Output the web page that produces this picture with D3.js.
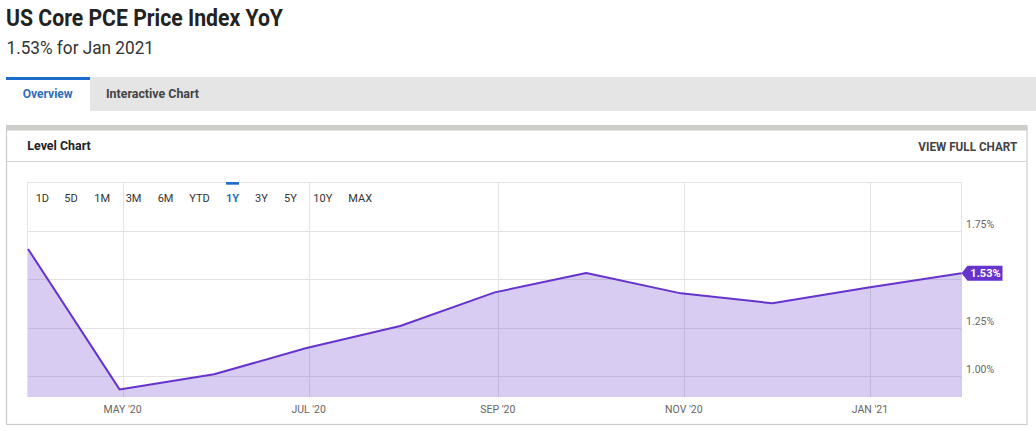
<!DOCTYPE html>
<html>
<head>
<meta charset="utf-8">
<script src="https://cdn.jsdelivr.net/npm/d3@7"></script>
<style>
  html, body { margin: 0; padding: 0; background: #fff; }
  svg { display: block; font-family: Roboto, "Noto Sans", sans-serif; }
</style>
</head>
<body>
<svg id="chart" width="1036" height="431"></svg>
<script>
// ---------- data ----------
const dates = ["2020-03-31","2020-04-30","2020-05-31","2020-06-30","2020-07-31","2020-08-31",
               "2020-09-30","2020-10-31","2020-11-30","2020-12-31","2021-01-31"];
const values = [1.655, 0.931, 1.009, 1.143, 1.258, 1.431, 1.531, 1.426, 1.375, 1.455, 1.53];
const yTicks = [1.00, 1.25, 1.50, 1.75];
const yTickLabels = ["1.00%", "1.25%", "1.50%", "1.75%"];
const xTicks = ["2020-05-01","2020-07-01","2020-09-01","2020-11-01","2021-01-01"];
const xTickLabels = ["MAY '20", "JUL '20", "SEP '20", "NOV '20", "JAN '21"];
const rangeButtons = ["1D","5D","1M","3M","6M","YTD","1Y","3Y","5Y","10Y","MAX"];
const activeRange = "1Y";
const lastLabel = "1.53%";
const titleText = "US Core PCE Price Index YoY";
const subtitleText = "1.53% for Jan 2021";

// ---------- layout ----------
const parse = d3.timeParse("%Y-%m-%d");
const data = dates.map((d, i) => ({ date: parse(d), value: values[i] }));
const svg = d3.select("#chart");
const plot = { left: 28, right: 961.5, top: 182, bottom: 397 };
const lineColor = "#6633cc";
const gridColor = "#e3e3e3";

// header
svg.append("text").attr("x", 6).attr("y", 26).attr("font-size", 24).attr("font-weight", 700)
  .attr("fill", "#222").attr("textLength", 277).attr("lengthAdjust", "spacingAndGlyphs").text(titleText);
svg.append("text").attr("x", 6.5).attr("y", 54).attr("font-size", 19).attr("font-weight", 400)
  .attr("fill", "#333").attr("textLength", 147.5).attr("lengthAdjust", "spacingAndGlyphs").text(subtitleText);

// tabs
svg.append("rect").attr("x", 6).attr("y", 77).attr("width", 1030).attr("height", 34).attr("fill", "#e5e5e5");
svg.append("rect").attr("x", 6).attr("y", 77).attr("width", 84).attr("height", 34).attr("fill", "#fff");
svg.append("rect").attr("x", 6).attr("y", 77).attr("width", 84).attr("height", 3).attr("fill", "#1a6dc8");
svg.append("text").attr("x", 22.7).attr("y", 97.7).attr("font-size", 13).attr("font-weight", 700)
  .attr("fill", "#2f6fba").attr("textLength", 50).attr("lengthAdjust", "spacingAndGlyphs").text("Overview");
svg.append("text").attr("x", 106).attr("y", 97.7).attr("font-size", 13).attr("font-weight", 700)
  .attr("fill", "#444").attr("textLength", 93).attr("lengthAdjust", "spacingAndGlyphs").text("Interactive Chart");

// panel
svg.append("rect").attr("x", 6.5).attr("y", 127.5).attr("width", 1020.5).attr("height", 297)
  .attr("fill", "#fff").attr("stroke", "#cccccc").attr("stroke-width", 1.2);
svg.append("rect").attr("x", 6).attr("y", 125).attr("width", 1021.5).attr("height", 5.5).attr("fill", "#cfcdca");
svg.append("line").attr("x1", 7).attr("x2", 1026.5).attr("y1", 161.5).attr("y2", 161.5)
  .attr("stroke", "#d2d2d2").attr("stroke-width", 1);
svg.append("text").attr("x", 27.3).attr("y", 150).attr("font-size", 13).attr("font-weight", 700)
  .attr("fill", "#222").attr("textLength", 63.4).attr("lengthAdjust", "spacingAndGlyphs").text("Level Chart");
svg.append("text").attr("x", 918.3).attr("y", 150.7).attr("font-size", 12).attr("font-weight", 700)
  .attr("fill", "#444").attr("textLength", 99).attr("lengthAdjust", "spacingAndGlyphs").text("VIEW FULL CHART");

// scales
const x = d3.scaleTime().domain(d3.extent(data, d => d.date)).range([plot.left, plot.right]);
const y = d3.scaleLinear().domain([0.8918, 2.0]).range([plot.bottom, plot.top]);

// grid
const g = svg.append("g");
g.selectAll("line.hg").data(yTicks.concat([2.0])).join("line")
  .attr("x1", plot.left - 0.5).attr("x2", plot.right)
  .attr("y1", d => Math.round(y(d)) + 0.5).attr("y2", d => Math.round(y(d)) + 0.5)
  .attr("stroke", gridColor).attr("stroke-width", 1);
g.selectAll("line.vg").data(xTicks.map(parse)).join("line")
  .attr("x1", d => Math.round(x(d)) + 0.5).attr("x2", d => Math.round(x(d)) + 0.5)
  .attr("y1", plot.top).attr("y2", plot.bottom)
  .attr("stroke", gridColor).attr("stroke-width", 1);
g.append("line").attr("x1", plot.left - 0.5).attr("x2", plot.left - 0.5).attr("y1", plot.top).attr("y2", plot.bottom)
  .attr("stroke", gridColor);
g.append("line").attr("x1", plot.right).attr("x2", plot.right).attr("y1", plot.top).attr("y2", plot.bottom)
  .attr("stroke", gridColor);

// range buttons
const rangeX = [35.7, 64.3, 94.3, 125.7, 157.7, 189.3, 226, 255, 284, 313.3, 348.3];
svg.selectAll("text.rb").data(rangeButtons).join("text")
  .attr("x", (d, i) => rangeX[i]).attr("y", 201.7).attr("font-size", 11)
  .attr("fill", d => d === activeRange ? "#1f6fc5" : "#333")
  .attr("font-weight", d => d === activeRange ? 700 : 400)
  .text(d => d);
const ai = rangeButtons.indexOf(activeRange);
svg.append("rect").attr("x", rangeX[ai]).attr("y", 182).attr("width", 13).attr("height", 2.7).attr("fill", "#1f6fc5");

// area + line
const area = d3.area().x(d => x(d.date)).y0(plot.bottom).y1(d => y(d.value));
const line = d3.line().x(d => x(d.date)).y(d => y(d.value));
svg.append("path").datum(data).attr("d", area).attr("fill", lineColor).attr("fill-opacity", 0.25);
svg.append("path").datum(data).attr("d", line).attr("fill", "none")
  .attr("stroke", lineColor).attr("stroke-width", 2).attr("stroke-linejoin", "round");

// y labels
const last = data[data.length - 1];
const ly = y(last.value);
svg.selectAll("text.yl").data(yTicks).join("text")
  .filter(d => Math.abs(y(d) - 3 - ly) > 10)
  .attr("x", 966).attr("y", d => y(d) - 3).attr("font-size", 10.5).attr("fill", "#666")
  .text(d => yTickLabels[yTicks.indexOf(d)]);

// x labels
svg.selectAll("text.xl").data(xTicks).join("text")
  .attr("x", d => x(parse(d))).attr("y", 413).attr("font-size", 10.5).attr("fill", "#666")
  .attr("text-anchor", "middle")
  .text((d, i) => xTickLabels[i]);

// last value badge
const bx = x(last.date);
svg.append("path")
  .attr("d", `M${bx},${ly} L${bx + 6},${ly - 7.5} L${bx + 41},${ly - 7.5} L${bx + 41},${ly + 7.5} L${bx + 6},${ly + 7.5} Z`)
  .attr("fill", lineColor);
svg.append("text").attr("x", bx + 24).attr("y", ly + 4).attr("text-anchor", "middle")
  .attr("font-size", 11).attr("font-weight", 700).attr("fill", "#fff").text(lastLabel);
</script>
</body>
</html>
